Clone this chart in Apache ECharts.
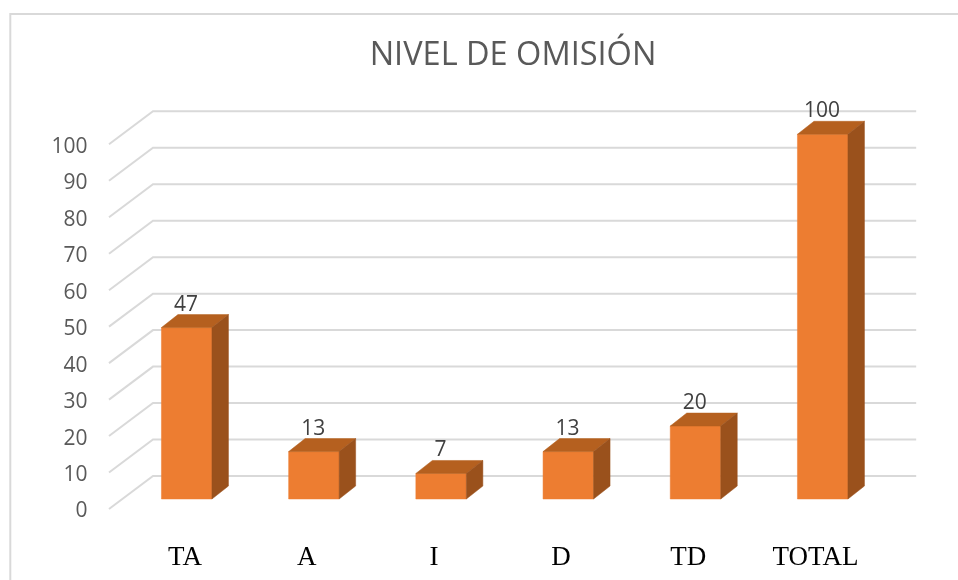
<!DOCTYPE html>
<html><head><meta charset="utf-8">
<style>html,body{margin:0;padding:0;background:#fff}#c{width:958px;height:580px}</style>
<script src="https://cdn.jsdelivr.net/npm/echarts@6/dist/echarts.min.js"></script>
</head><body><div id="c"></div>
<script>
const categories = ['TA','A','I','D','TD','TOTAL'];
const values = [47,13,7,13,20,100];
const ticks = [0,10,20,30,40,50,60,70,80,90,100];
const titleText = 'NIVEL DE OMISIÓN';

const SANS = '"Open Sans", sans-serif';
const WALL = {dx:29.6, dy:-23};
const FLOOR = {dx:-14.4, dy:10};
const DEPTH = {dx:16.5, dy:-13};
const GRID_COLOR = '#d9d9d9';

const chart = echarts.init(document.getElementById('c'), null, {renderer:'canvas'});
chart.setOption({
  animation:false,
  backgroundColor:'#fff',
  title:{text:titleText,left:508,top:34,textAlign:'center',
    textStyle:{fontFamily:SANS,fontSize:32.5,fontWeight:'normal',color:'#595959'}},
  grid:{left:123.4,right:71.4,top:134.3,bottom:81},
  graphic:[{type:'polyline',z:0,silent:true,
    shape:{points:[[10.3,580],[10.3,14],[958,14]]},
    style:{fill:null,stroke:GRID_COLOR,lineWidth:2}}],
  xAxis:{type:'category',data:categories,
    axisLine:{show:false},axisTick:{show:false},
    axisLabel:{margin:45,interval:0,
      formatter:(v,i)=> i===0 ? `{first|${v}}` : `{rest|${v}}`,
      rich:{
        first:{fontFamily:'"Liberation Serif", serif',fontSize:27,color:'#000',padding:[0,4,0,0]},
        rest:{fontFamily:'"Liberation Serif", serif',fontSize:27,color:'#000',padding:[0,15,0,0]}
      }}},
  yAxis:{type:'value',min:0,max:100,interval:10,
    axisLine:{show:false},axisTick:{show:false},splitLine:{show:false},
    axisLabel:{margin:36,fontFamily:SANS,fontSize:21,color:'#595959',verticalAlign:'top',lineHeight:25}},
  series:[
    {type:'custom',z:1,silent:true,data:ticks.map(t=>[t]),
     encode:{y:0},
     renderItem(params,api){
       const v=api.value(0);
       const left=api.coord([0,v]);
       const right=api.coord([categories.length-1,v]);
       const band=api.size([1,0])[0];
       const x0=left[0]-band/2, x1=right[0]+band/2, y=left[1];
       return {type:'polyline',shape:{points:[
         [x0+FLOOR.dx,y+FLOOR.dy],[x0+WALL.dx,y+WALL.dy],[x1+WALL.dx,y+WALL.dy]]},
         style:{fill:null,stroke:GRID_COLOR,lineWidth:2}};
     }},
    {type:'custom',z:2,silent:true,
     data:categories.map((c,i)=>[i,values[i]]),
     encode:{x:0,y:1},
     renderItem(params,api){
       const i=api.value(0), v=api.value(1);
       const top=api.coord([i,v]), base=api.coord([i,0]);
       const w=api.size([1,0])[0]*0.397;
       const cx=top[0]-0.3;
       const l=cx-w/2, r=cx+w/2, t=top[1], b=base[1];
       const d=DEPTH;
       const poly=(pts,fill)=>({type:'polygon',shape:{points:pts},style:{fill,stroke:fill,lineWidth:0.5}});
       return {type:'group',children:[
         poly([[l,b],[r,b],[r,t],[l,t]],'#ED7D31'),
         poly([[l,t],[r,t],[r+d.dx,t+d.dy],[l+d.dx,t+d.dy]],'#B5601F'),
         poly([[r,t],[r+d.dx,t+d.dy],[r+d.dx,b+d.dy],[r,b]],'#9A511C'),
         {type:'text',style:{text:String(v),x:top[0]-1,y:t-23,align:'center',verticalAlign:'middle',
           font:'21px '+SANS,fill:'#404040'}}
       ]};
     }}
  ]
});
</script></body></html>
